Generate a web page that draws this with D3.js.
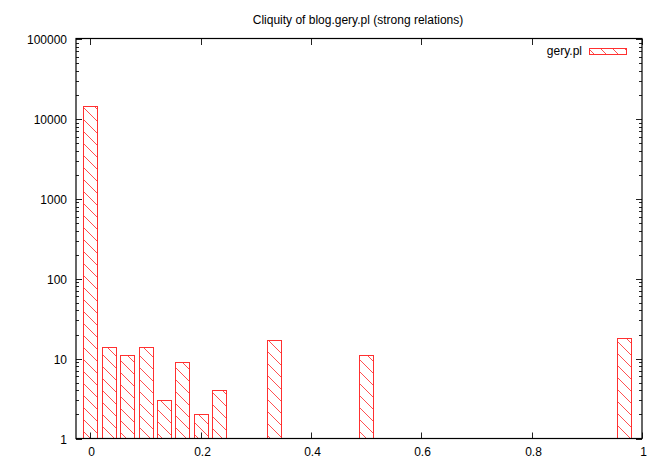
<!DOCTYPE html>
<html>
<head>
<meta charset="utf-8">
<script src="https://cdn.jsdelivr.net/npm/d3@7"></script>
<style>
  body { margin: 0; background: #fff; }
  svg text { font-family: "Liberation Sans", Arial, sans-serif; font-size: 12px; fill: #000; }
</style>
</head>
<body>
<svg id="chart" width="664" height="465"></svg>
<script>
// cliquity bins (k/30) and counts
var bins   = [0, 1/30, 2/30, 3/30, 4/30, 5/30, 6/30, 7/30, 10/30, 15/30, 29/30];
var counts = [14700, 14, 11, 14, 3, 9, 2, 4, 17, 11, 18];
var xTicks = [0, 0.2, 0.4, 0.6, 0.8, 1];
var yTicks = [1, 10, 100, 1000, 10000, 100000];
var seriesName = "gery.pl";
var title = "Cliquity of blog.gery.pl (strong relations)";

(function () {
  var svg = d3.select("svg#chart"),
      left = 76, right = 642, top = 39, bottom = 438.5,
      barW = 0.025, hs = 12;

  var x = d3.scaleLinear().domain([-0.026, 1]).range([left, right]);
  var y = d3.scaleLog().domain([1, 100000]).range([bottom, top]);

  // hatch pattern, "\" lines
  var defs = svg.append("defs");
  var pat = defs.append("pattern").attr("id", "hatch")
      .attr("patternUnits", "userSpaceOnUse")
      .attr("width", hs).attr("height", hs);
  pat.append("path")
      .attr("d", "M-1,-1 L" + (hs+1) + "," + (hs+1) +
                 " M-6," + (hs-5) + " L1," + (hs+1) +
                 " M" + (hs-5) + ",-6 L" + (hs+1) + ",1")
      .attr("stroke", "#ff3030").attr("stroke-width", 0.85).attr("fill", "none");

  svg.append("text").attr("x", 358).attr("y", 24)
     .attr("text-anchor", "middle").text(title);

  // bars
  svg.append("g").selectAll("rect").data(bins).enter().append("rect")
     .attr("x", d => Math.round(x(d - barW/2)) + 0.5)
     .attr("width", d => Math.round(x(barW) - x(0)))
     .attr("y", (d, i) => Math.round(y(counts[i])) + 0.5)
     .attr("height", (d, i) => bottom - Math.round(y(counts[i])) - 0.5)
     .attr("fill", "url(#hatch)")
     .attr("stroke", "#ff3030").attr("stroke-width", 1);

  // minor log ticks
  var minor = [];
  for (var e = 0; e < 5; e++)
    for (var m = 2; m <= 9; m++) minor.push(m * Math.pow(10, e));

  var gt = svg.append("g").attr("stroke", "#222").attr("stroke-width", 1);
  minor.forEach(function (v) {
    var py = Math.round(y(v)) + 0.5;
    gt.append("line").attr("x1", left).attr("x2", left + 3).attr("y1", py).attr("y2", py);
    gt.append("line").attr("x1", right - 3).attr("x2", right).attr("y1", py).attr("y2", py);
  });
  yTicks.forEach(function (v) {
    var py = Math.round(y(v)) + 0.5;
    gt.append("line").attr("x1", left).attr("x2", left + 6).attr("y1", py).attr("y2", py);
    gt.append("line").attr("x1", right - 6).attr("x2", right).attr("y1", py).attr("y2", py);
    svg.append("text").attr("x", 67).attr("y", py + 4.5)
       .attr("text-anchor", "end").text(v);
  });
  xTicks.forEach(function (v) {
    var px = Math.round(x(v)) + 0.5;
    gt.append("line").attr("x1", px).attr("x2", px).attr("y1", bottom).attr("y2", bottom - 6);
    gt.append("line").attr("x1", px).attr("x2", px).attr("y1", top).attr("y2", top + 6);
    svg.append("text").attr("x", px + 1).attr("y", 456)
       .attr("text-anchor", "middle").text(v);
  });

  // frame
  svg.append("rect").attr("x", left).attr("y", top - 0.5)
     .attr("width", right - left).attr("height", bottom - top + 0.5)
     .attr("fill", "none").attr("stroke", "#000").attr("stroke-width", 1.2);

  // legend
  svg.append("text").attr("x", 582).attr("y", 55)
     .attr("text-anchor", "end").text(seriesName);
  svg.append("rect").attr("x", 589.5).attr("y", 48.5)
     .attr("width", 37).attr("height", 6)
     .attr("fill", "url(#hatch)")
     .attr("stroke", "#ff3030").attr("stroke-width", 1);
})();
</script>
</body>
</html>
